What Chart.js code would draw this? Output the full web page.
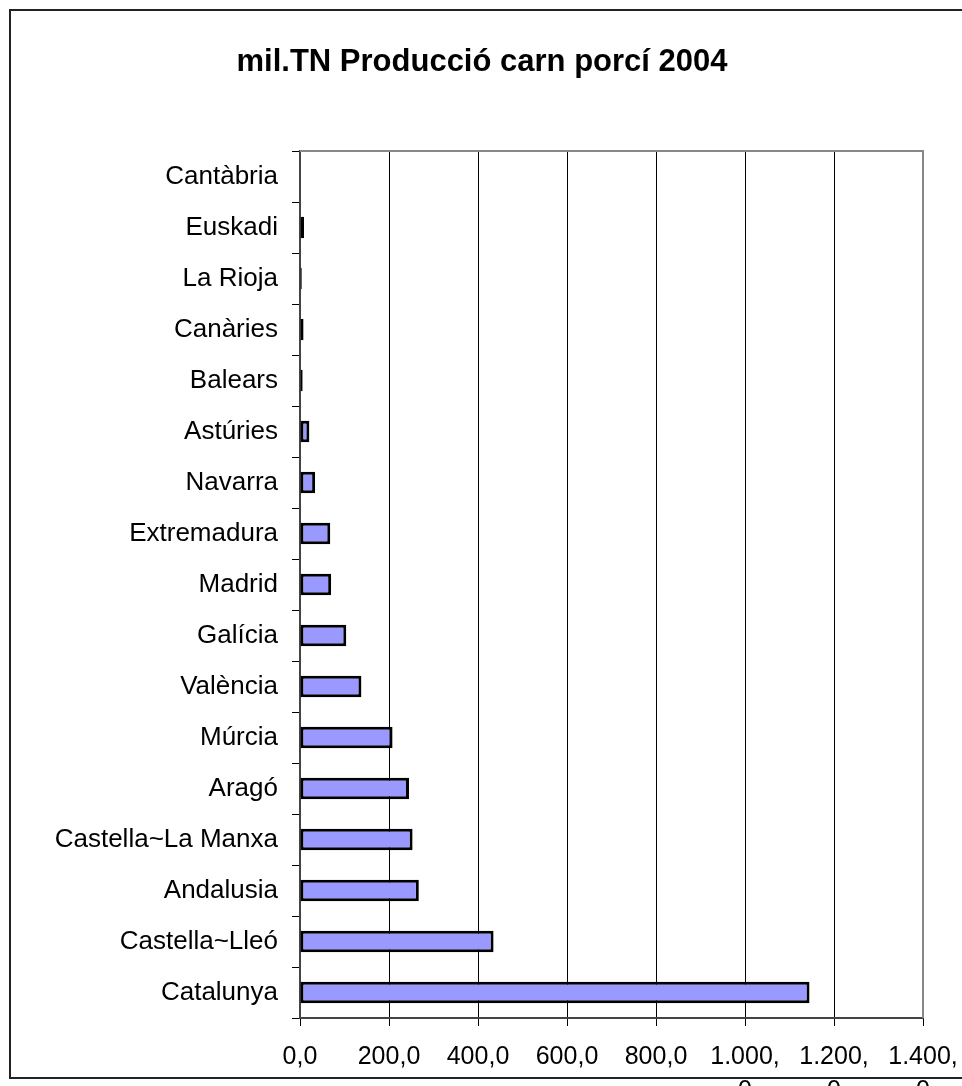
<!DOCTYPE html>
<html>
<head>
<meta charset="utf-8">
<title>Producció carn porcí 2004</title>
<script src="https://cdn.jsdelivr.net/npm/chart.js@4/dist/chart.umd.min.js"></script>
<style>
  body { margin: 0; background: #fff; }
  canvas { display: block; }
</style>
</head>
<body>
<canvas id="grafica" width="962" height="1086"></canvas>
<script>
// datos: comunidades y miles de toneladas
var comunidades = ['Cantàbria', 'Euskadi', 'La Rioja', 'Canàries', 'Balears', 'Astúries', 'Navarra',
  'Extremadura', 'Madrid', 'Galícia', 'València', 'Múrcia', 'Aragó', 'Castella~La Manxa',
  'Andalusia', 'Castella~Lleó', 'Catalunya'];
var produccion = [0, 9, 4, 8, 6, 21, 34, 68, 70, 104, 138, 208, 245, 253, 267, 435, 1145];
var etiquetasX = ['0,0', '200,0', '400,0', '600,0', '800,0', ['1.000,', '0'], ['1.200,', '0'], ['1.400,', '0']];
var titulo = 'mil.TN Producció carn porcí 2004';

var fuente = '"Liberation Sans", Arial, sans-serif';

// marco exterior, titulo y borde gris del area del grafico
var marco = {
  id: 'marco',
  beforeDraw: function(chart) {
    var ctx = chart.ctx;
    ctx.save();
    ctx.fillStyle = '#fff';
    ctx.fillRect(0, 0, chart.width, chart.height);
    ctx.strokeStyle = '#222';
    ctx.lineWidth = 2;
    ctx.strokeRect(10, 10, 1000, 1068);
    ctx.fillStyle = '#000';
    ctx.font = 'bold 31px ' + fuente;
    ctx.textAlign = 'center';
    ctx.textBaseline = 'alphabetic';
    ctx.fillText(titulo, 482, 71);
    ctx.restore();
  },
  beforeDatasetsDraw: function(chart) {
    var a = chart.chartArea;
    var ctx = chart.ctx;
    ctx.save();
    ctx.strokeStyle = '#888';
    ctx.lineWidth = 2;
    ctx.beginPath();
    ctx.moveTo(a.left, a.top);
    ctx.lineTo(a.right, a.top);
    ctx.lineTo(a.right, a.bottom);
    ctx.stroke();
    ctx.restore();
  }
};

var grafica = new Chart(document.getElementById('grafica'), {
  type: 'bar',
  data: {
    labels: comunidades,
    datasets: [{
      data: produccion,
      backgroundColor: '#9999ff',
      borderColor: '#000',
      borderWidth: 3,
      borderSkipped: false,
      barPercentage: 0.42,
      categoryPercentage: 1
    }]
  },
  options: {
    indexAxis: 'y',
    responsive: false,
    animation: false,
    layout: { padding: { top: 151, right: 39, left: 0, bottom: 0 } },
    plugins: { legend: { display: false }, tooltip: { enabled: false } },
    scales: {
      x: {
        min: 0,
        max: 1400,
        ticks: {
          stepSize: 200,
          color: '#000',
          padding: 14,
          maxRotation: 0,
          autoSkip: false,
          font: { family: fuente, size: 25, lineHeight: 1.35 },
          callback: function(v, i) { return etiquetasX[i]; }
        },
        grid: { color: '#000', lineWidth: 1, tickLength: 8 },
        border: { color: '#444', width: 2 },
        afterFit: function(s) {
          s.height = 68;
          s.paddingLeft = 0;
          s.paddingRight = 0;
        }
      },
      y: {
        ticks: {
          color: '#000',
          padding: 14,
          autoSkip: false,
          font: { family: fuente, size: 26 }
        },
        grid: { offset: true, drawOnChartArea: false, color: '#000', tickLength: 8 },
        border: { color: '#444', width: 2 },
        afterFit: function(s) { s.width = 300; }
      }
    }
  },
  plugins: [marco]
});
</script>
</body>
</html>
